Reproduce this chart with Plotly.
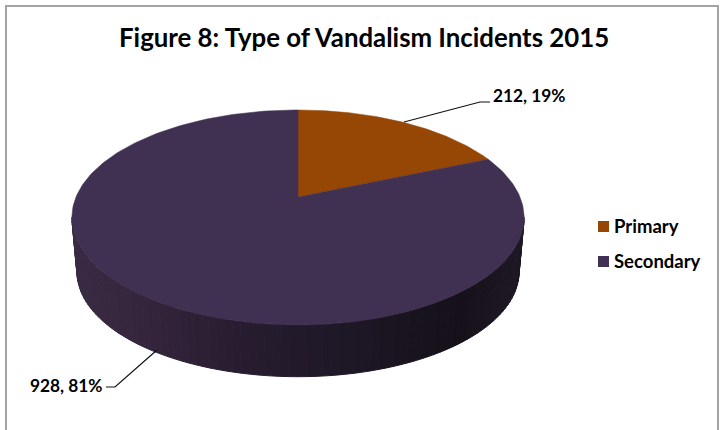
import numpy as np
import plotly.graph_objects as go

categories = ["Primary", "Secondary"]
values = [212, 928]
percent_labels = ["19%", "81%"]
colors = ["#964705", "#403152"]
title_text = "Figure 8: Type of Vandalism Incidents 2015"
FONT = "Lato, Carlito, 'Open Sans', sans-serif"

W, H = 721, 430
CX, CY = 298, 197      # apex of the top face
A, B, K = 103.6, 222.0, 0.19   # perspective of the top face
CY2, A2, B2 = 252, 101.0, 217.0  # bottom face

def proj(theta, cy=CY, a=A, b=B):
    X, Y = np.sin(theta), np.cos(theta)
    d = 1 + K * Y
    return CX + b * X / d, cy - a * Y / d

def lerp_color(x):
    stops = [(70, (58, 43, 68)), (150, (52, 36, 59)), (250, (38, 28, 46)), (300, (34, 26, 43)),
             (400, (26, 20, 32)), (460, (21, 16, 25)), (525, (30, 25, 37))]
    xs = [s[0] for s in stops]
    c = [int(round(np.interp(x, xs, [s[1][i] for s in stops]))) for i in range(3)]
    return f"rgb({c[0]},{c[1]},{c[2]})"

fig = go.Figure()

# side wall, drawn in narrow strips for the horizontal shading
t0 = np.arccos(-K)
edges = np.linspace(t0, 2 * np.pi - t0, 91)
for i in range(len(edges) - 1):
    ts = np.linspace(edges[i], edges[i + 1], 3)
    x1, y1 = proj(ts)
    x2, y2 = proj(ts[::-1], CY2, A2, B2)
    xs = np.r_[x1, x2, x1[0]]
    ys = np.r_[y1, y2, y1[0]]
    col = lerp_color(float(x1.mean()))
    fig.add_trace(go.Scatter(x=xs, y=ys, mode="lines", fill="toself", fillcolor=col,
                             line=dict(color=col, width=1), hoverinfo="skip", showlegend=False))

# top face, slices start at 12 o'clock and run clockwise
total = sum(values)
start = 0.0
for name, v, col in zip(categories, values, colors):
    sweep = 2 * np.pi * v / total
    ts = np.linspace(start, start + sweep, 240)
    x, y = proj(ts)
    fig.add_trace(go.Scatter(x=np.r_[CX, x, CX], y=np.r_[CY, y, CY], mode="lines", fill="toself",
                             fillcolor=col, line=dict(color=col, width=0.5), name=name,
                             hoverinfo="name", showlegend=False))
    start += sweep

# leader lines
for lx, ly in [([404, 480, 490], [122, 102, 102]), ([157, 115, 106], [350, 387, 387])]:
    fig.add_trace(go.Scatter(x=lx, y=ly, mode="lines", line=dict(color="#111111", width=1.2),
                             hoverinfo="skip", showlegend=False))

# legend keys
legend_y = [226.5, 261.5]
fig.add_trace(go.Scatter(x=[603.5, 603.5], y=legend_y, mode="markers",
                         marker=dict(symbol="square", size=11, color=colors, line=dict(width=0)),
                         hoverinfo="skip", showlegend=False))
ann = []
for name, y in zip(categories, legend_y):
    ann.append(dict(x=614, y=y, text=f"<b>{name}</b>", xanchor="left", yanchor="middle", showarrow=False,
                    xshift=-2, yshift=1, font=dict(family=FONT, size=18.5, color="#000000")))
ann.append(dict(x=493, y=95, text=f"<b>{values[0]}, {percent_labels[0]}</b>", xanchor="left", yanchor="middle",
                xshift=-2, showarrow=False, font=dict(family=FONT, size=17.3, color="#000000")))
ann.append(dict(x=103, y=385, text=f"<b>{values[1]}, {percent_labels[1]}</b>", xanchor="right", yanchor="middle",
                xshift=2, showarrow=False, font=dict(family=FONT, size=17.3, color="#000000")))
ann.append(dict(x=363.5, y=37, text=f"<b>{title_text}</b>", xanchor="center", yanchor="middle",
                showarrow=False, font=dict(family=FONT, size=25.8, color="#000000")))

fig.update_layout(
    width=W, height=H, margin=dict(l=0, r=0, t=0, b=0),
    paper_bgcolor="white", plot_bgcolor="white", showlegend=False,
    xaxis=dict(range=[0, W], visible=False, fixedrange=True),
    yaxis=dict(range=[H, 0], visible=False, fixedrange=True),
    annotations=ann,
    shapes=[dict(type="rect", x0=6, y0=6, x1=718, y1=H + 10, line=dict(color="#a3a3a3", width=2),
                 fillcolor="rgba(0,0,0,0)", layer="below")],
)
fig.write_html("out.html", config=dict(displayModeBar=False),
               post_script="document.body.style.margin='0';document.body.style.overflow='hidden';")
